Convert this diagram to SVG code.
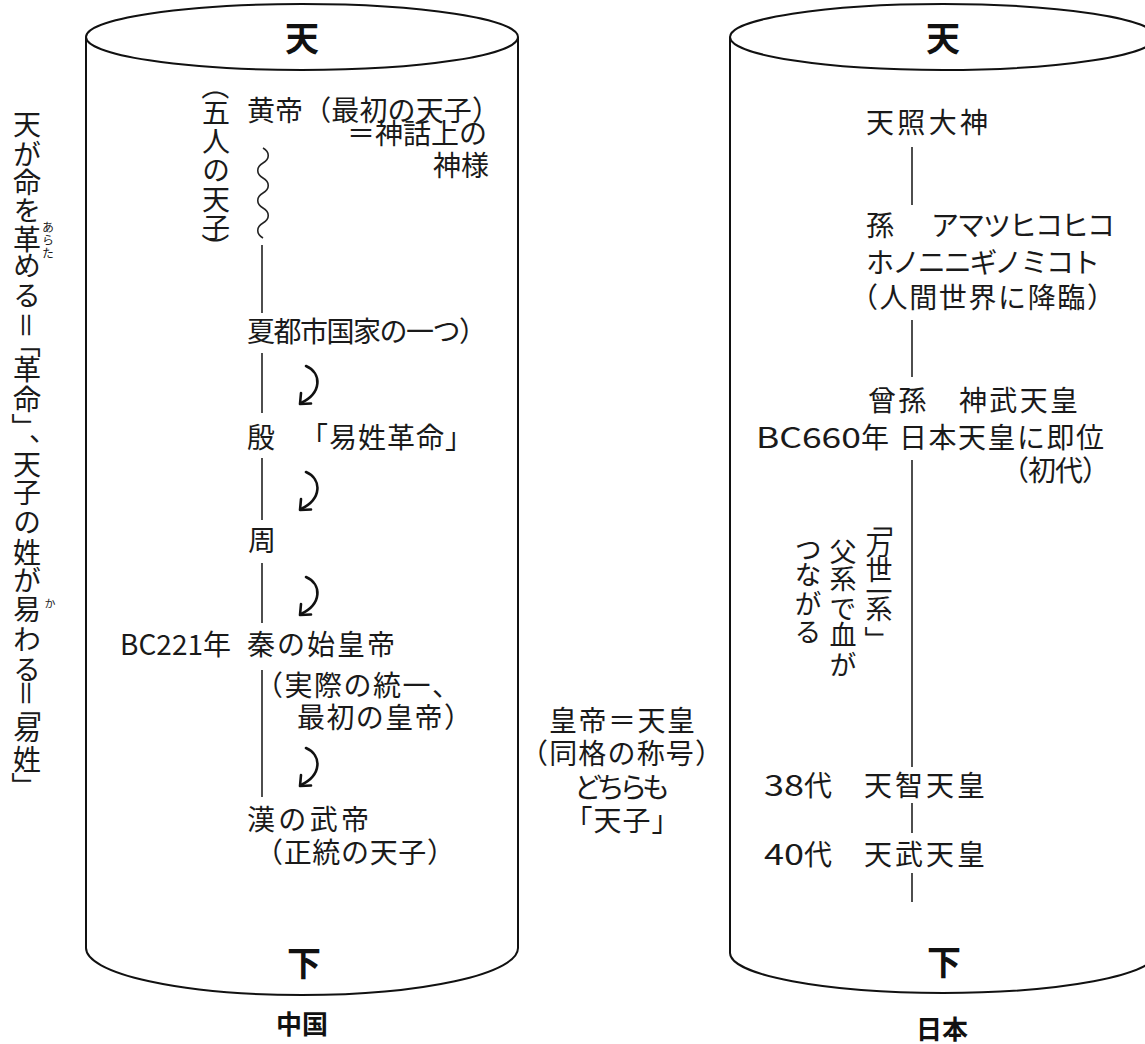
<svg xmlns="http://www.w3.org/2000/svg" xmlns:xlink="http://www.w3.org/1999/xlink" width="1145" height="1044" viewBox="0 0 1145 1044">
<style>
.t{font-family:"Noto Sans CJK JP","Noto Sans",sans-serif;font-size:28px;fill:#1a1a1a;}
.b{font-weight:bold;font-size:34px;fill:#111;}
.lb{font-weight:bold;font-size:26px;fill:#111;}
.v{writing-mode:vertical-rl;}
.r{text-anchor:middle;dominant-baseline:central;}
.ln{stroke:#222;stroke-width:1.6;fill:none;}
.cyl{stroke:#111;stroke-width:2;fill:none;}
.arr{stroke:#111;stroke-width:2.6;fill:none;stroke-linecap:round;stroke-linejoin:round;}
</style>
<defs>
<g id="arrow">
<path class="arr" d="M 8 1 C 24 8, 24 28, 3 38"/>
<path class="arr" d="M 3 28 L 2 39 L 13 38.5"/>
</g>
</defs>
<rect width="1145" height="1044" fill="#fff"/>

<g id="caption-left">
<text class="t v" x="27" y="110 140 168 196 225 251 281">天が命を革める</text>
<text class="t r" x="27" y="325" transform="rotate(90 27 325)">＝</text>
<text class="t r" x="27" y="344" transform="rotate(90 27 344)">「</text>
<text class="t v" x="27" y="355 385">革命</text>
<text class="t r" x="27" y="427" transform="rotate(90 27 427)">」</text>
<text class="t" x="29" y="441">、</text>
<text class="t v" x="27" y="450 478 508 538 566 595 625 655">天子の姓が易わる</text>
<text class="t r" x="27" y="693" transform="rotate(90 27 693)">＝</text>
<text class="t r" x="27" y="708" transform="rotate(90 27 708)">「</text>
<text class="t v" x="27" y="715 745">易姓</text>
<text class="t r" x="27" y="786" transform="rotate(90 27 786)">」</text>
<text class="t v" style="font-size:12px" x="48" y="221 234 247">あらた</text>
<text class="t v" style="font-size:11px" x="50" y="598">か</text>
</g>

<g id="china">
<ellipse class="cyl" cx="302" cy="37" rx="216" ry="33"/>
<path class="cyl" d="M 86 37 L 86 948 A 216 47 0 0 0 518 948 L 518 37"/>
<text class="t b" x="302" y="51" text-anchor="middle">天</text>
<text class="t b" x="304" y="976" text-anchor="middle">下</text>
<text class="t lb" x="302" y="1034" text-anchor="middle">中国</text>
</g>

<g id="china-items">
<text class="t r" x="216" y="86" transform="rotate(90 216 86)">（</text>
<text class="t v" x="216" y="98 127 156 185 213">五人の天子</text>
<text class="t r" x="216" y="247" transform="rotate(90 216 247)">）</text>
<text class="t" x="247" y="121" textLength="253" lengthAdjust="spacing">黄帝（最初の天子）</text>
<text class="t" x="487" y="144" text-anchor="end">＝神話上の</text>
<text class="t" x="489" y="176" text-anchor="end">神様</text>
<text class="t" x="247" y="342" textLength="240" lengthAdjust="spacing">夏都市国家の一つ）</text>
<text class="t" x="247" y="448">殷</text>
<text class="t" x="300" y="448" textLength="173" lengthAdjust="spacing">「易姓革命」</text>
<text class="t" x="248" y="551">周</text>
<text class="t" x="231" y="655" text-anchor="end">BC221年</text>
<text class="t" x="247" y="655" textLength="148" lengthAdjust="spacing">秦の始皇帝</text>
<text class="t" x="255" y="696" textLength="205" lengthAdjust="spacing">（実際の統一、</text>
<text class="t" x="297" y="728" textLength="175" lengthAdjust="spacing">最初の皇帝）</text>
<text class="t" x="247" y="830" textLength="122" lengthAdjust="spacing">漢の武帝</text>
<text class="t" x="255" y="863" textLength="200" lengthAdjust="spacing">（正統の天子）</text>
</g>

<g id="middle-note">
<text class="t" x="622" y="731" text-anchor="middle" textLength="146" lengthAdjust="spacing">皇帝＝天皇</text>
<text class="t" x="520" y="764" textLength="203" lengthAdjust="spacing">（同格の称号）</text>
<text class="t" x="622" y="798" text-anchor="middle" textLength="96" lengthAdjust="spacing">どちらも</text>
<text class="t" x="622" y="831" text-anchor="middle" textLength="115" lengthAdjust="spacing">「天子」</text>
</g>

<g id="japan">
<ellipse class="cyl" cx="943" cy="37" rx="213" ry="33"/>
<path class="cyl" d="M 730 37 L 730 953 A 213 40 0 0 0 1156 953 L 1156 37"/>
<text class="t b" x="943" y="51" text-anchor="middle">天</text>
<text class="t b" x="944" y="975" text-anchor="middle">下</text>
<text class="t lb" x="942" y="1039" text-anchor="middle">日本</text>
</g>

<g id="japan-items">
<text class="t" x="866" y="133" textLength="122" lengthAdjust="spacing">天照大神</text>
<text class="t" x="866" y="236">孫</text>
<text class="t" x="931" y="236" textLength="184" lengthAdjust="spacing">アマツヒコヒコ</text>
<text class="t" x="866" y="273" textLength="234" lengthAdjust="spacing">ホノニニギノミコト</text>
<text class="t" x="850" y="308" textLength="265" lengthAdjust="spacing">（人間世界に降臨）</text>
<text class="t" x="868" y="411" textLength="210" lengthAdjust="spacing">曾孫　神武天皇</text>
<text class="t" x="756" y="448"><tspan textLength="105" lengthAdjust="spacingAndGlyphs">BC660</tspan>年</text>
<text class="t" x="899" y="448" textLength="205" lengthAdjust="spacing">日本天皇に即位</text>
<text class="t" x="1001" y="481" textLength="109" lengthAdjust="spacing">（初代）</text>
<text class="t r" style="font-size:27px" x="879" y="523.5" transform="rotate(90 879 523.5)">「</text>
<text class="t v" style="font-size:27px" x="879" y="531 556 578 595">万世一系</text>
<text class="t r" style="font-size:27px" x="879" y="639.5" transform="rotate(90 879 639.5)">」</text>
<text class="t v" style="font-size:27px" x="843" y="538 565 595 621 651">父系で血が</text>
<text class="t v" style="font-size:27px" x="808" y="536 561 590 618">つながる</text>
<text class="t" x="764" y="796"><tspan textLength="40" lengthAdjust="spacingAndGlyphs">38</tspan>代</text>
<text class="t" x="864" y="796" textLength="121" lengthAdjust="spacing">天智天皇</text>
<text class="t" x="764" y="865"><tspan textLength="40" lengthAdjust="spacingAndGlyphs">40</tspan>代</text>
<text class="t" x="864" y="865" textLength="121" lengthAdjust="spacing">天武天皇</text>
</g>

<g id="connectors">
<path class="ln" d="M 263 148 c 7 4, 7 11, 0 15 c -7 4, -7 11, 0 15 c 7 4, 7 11, 0 15 c -7 4, -7 11, 0 15 c 7 4, 7 11, 0 15 c -7 4, -7 11, 0 15"/>
<path class="ln" d="M 262 245 V 313 M 262 353 V 413 M 262 458 V 520 M 262 563 V 623 M 262 670 V 797"/>
<use xlink:href="#arrow" x="298" y="365"/>
<use xlink:href="#arrow" x="298" y="471"/>
<use xlink:href="#arrow" x="298" y="576"/>
<use xlink:href="#arrow" x="298" y="747"/>
<path class="ln" d="M 912 147 V 205 M 912 320 V 377 M 912 460 V 767 M 912 803 V 833 M 912 873 V 902"/>
</g>
</svg>
